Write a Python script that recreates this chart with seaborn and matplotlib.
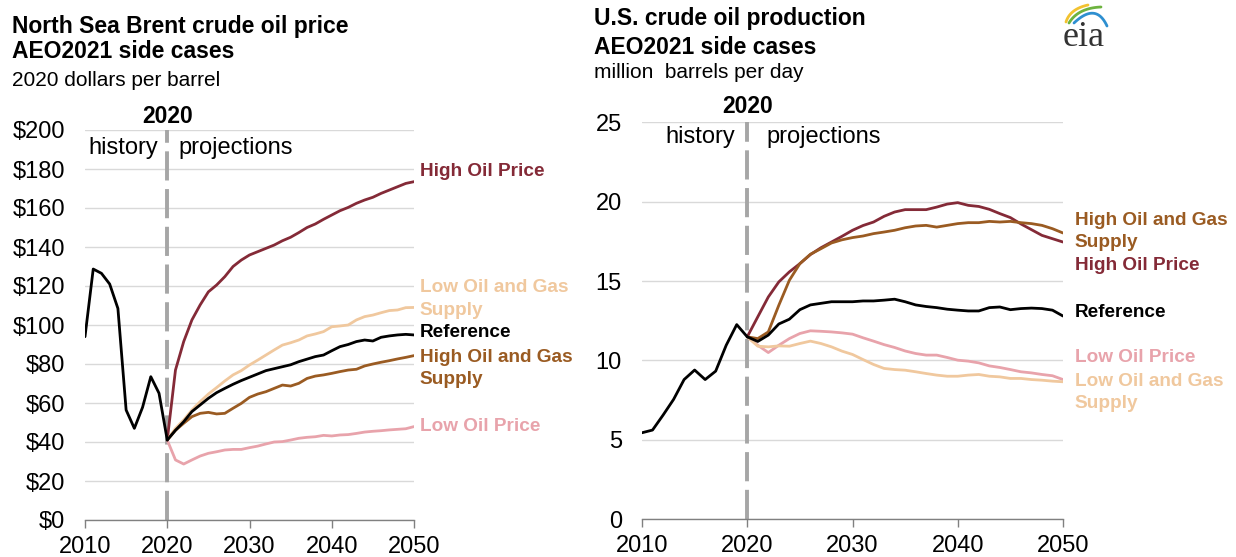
import numpy as np
import pandas as pd
import matplotlib
matplotlib.use("Agg")
import matplotlib.pyplot as plt
import seaborn as sns

# ---------------- data ----------------
years_hist = list(range(2010, 2021))
years_proj = list(range(2020, 2051))

brent_hist = [94, 128.7, 126.5, 121, 108.5, 56.4, 47, 57.8, 73.5, 65, 41]
brent_reference = [41, 46, 50.4, 55.6, 59, 62.4, 65.3, 67.5, 69.6, 71.5, 73.2, 74.9, 76.6, 77.6,
                   78.6, 79.6, 81.2, 82.5, 83.8, 84.6, 86.8, 88.9, 90, 91.5, 92.3, 91.8, 93.7,
                   94.4, 94.9, 95.2, 94.9]
brent_high_price = [41, 76.9, 91.5, 102.6, 110.3, 117, 120.5, 124.8, 130, 133.3, 135.9, 137.6,
                    139.3, 141, 143.2, 145, 147.4, 150, 151.8, 154.2, 156.4, 158.6, 160.3, 162.4,
                    164.1, 165.5, 167.5, 169.2, 170.9, 172.6, 173.5]
brent_low_supply = [41, 47, 51.3, 56.4, 60.7, 64.6, 67.9, 71.3, 74.4, 76.6, 79.5, 82, 84.6, 87.2,
                    89.7, 90.9, 92.3, 94.4, 95.4, 96.6, 99.1, 99.5, 100, 102.6, 104.3, 105.1,
                    106.3, 107.4, 107.7, 108.9, 109]
brent_high_supply = [41, 46, 49.6, 53, 54.7, 55.2, 54.4, 54.7, 57.3, 59.8, 62.9, 64.6, 65.8, 67.5,
                     69.2, 68.7, 70.1, 72.6, 73.8, 74.4, 75.2, 76.1, 76.9, 77.3, 79, 80, 80.9,
                     81.7, 82.6, 83.4, 84.3]
brent_low_price = [41, 30.8, 28.7, 30.8, 32.8, 34.2, 35, 35.9, 36.2, 36.2, 37.1, 37.9, 39, 40,
                   40.2, 41, 41.9, 42.4, 42.7, 43.4, 43.1, 43.6, 43.8, 44.4, 45.1, 45.5, 45.8,
                   46.2, 46.5, 46.8, 47.9]

prod_hist = [5.45, 5.62, 6.56, 7.55, 8.8, 9.4, 8.8, 9.33, 10.96, 12.26, 11.49]
prod_reference = [11.49, 11.2, 11.6, 12.3, 12.6, 13.2, 13.5, 13.6, 13.7, 13.7, 13.7, 13.75, 13.75,
                  13.8, 13.86, 13.7, 13.5, 13.4, 13.33, 13.23, 13.17, 13.12, 13.12, 13.33, 13.37,
                  13.2, 13.27, 13.3, 13.27, 13.17, 12.8]
prod_high_price = [11.49, 12.75, 14.0, 14.95, 15.58, 16.1, 16.67, 17.1, 17.46, 17.82, 18.2, 18.5,
                   18.72, 19.08, 19.35, 19.5, 19.5, 19.5, 19.66, 19.85, 19.94, 19.77, 19.7, 19.52,
                   19.25, 19.0, 18.6, 18.24, 17.88, 17.67, 17.46]
prod_high_supply = [11.49, 11.38, 11.8, 13.48, 15.05, 16.1, 16.69, 17.04, 17.4, 17.6, 17.74, 17.84,
                    17.99, 18.09, 18.2, 18.36, 18.47, 18.51, 18.4, 18.51, 18.62, 18.68, 18.68,
                    18.76, 18.72, 18.76, 18.68, 18.62, 18.51, 18.3, 18.03]
prod_low_price = [11.49, 10.96, 10.5, 10.96, 11.38, 11.7, 11.87, 11.84, 11.8, 11.74, 11.66, 11.43,
                  11.22, 11.0, 10.82, 10.6, 10.44, 10.34, 10.34, 10.19, 10.02, 9.96, 9.85, 9.66,
                  9.56, 9.43, 9.29, 9.22, 9.12, 9.04, 8.8]
prod_low_supply = [11.49, 10.9, 10.86, 10.92, 10.9, 11.07, 11.22, 11.07, 10.86, 10.59, 10.38,
                   10.06, 9.75, 9.5, 9.43, 9.39, 9.29, 9.18, 9.08, 9.01, 9.01, 9.08, 9.12, 9.01,
                   8.97, 8.87, 8.87, 8.8, 8.76, 8.7, 8.66]

case_names = ["High Oil Price", "Low Oil and Gas Supply", "Reference",
              "High Oil and Gas Supply", "Low Oil Price"]
brent_yticks = [0, 20, 40, 60, 80, 100, 120, 140, 160, 180, 200]
prod_yticks = [0, 5, 10, 15, 20, 25]
xticks = [2010, 2020, 2030, 2040, 2050]

colors = {
    "High Oil Price": "#842A37",
    "Low Oil and Gas Supply": "#F0C89E",
    "Reference": "#000000",
    "High Oil and Gas Supply": "#9A5B22",
    "Low Oil Price": "#E8A3AB",
}

# ---------------- style ----------------
sns.set_theme(style="white")
plt.rcParams["font.family"] = ["Liberation Sans", "DejaVu Sans"]
plt.rcParams["text.color"] = "#000000"
plt.rcParams["axes.labelcolor"] = "#000000"
plt.rcParams["xtick.color"] = "#000000"
plt.rcParams["ytick.color"] = "#000000"

fig = plt.figure(figsize=(12.36, 5.57), dpi=100)
axL = fig.add_axes([85 / 1236, 1 - 520 / 557, 329 / 1236, 390 / 557])
axR = fig.add_axes([642 / 1236, 1 - 519.3 / 557, 421 / 1236, 397 / 557])


def long_df(values_by_case):
    frames = []
    for name, vals in values_by_case.items():
        frames.append(pd.DataFrame({"year": years_proj, "value": vals, "case": name}))
    return pd.concat(frames, ignore_index=True)


brent_df = long_df({
    "High Oil Price": brent_high_price,
    "Low Oil and Gas Supply": brent_low_supply,
    "High Oil and Gas Supply": brent_high_supply,
    "Low Oil Price": brent_low_price,
    "Reference": brent_reference,
})
prod_df = long_df({
    "Low Oil Price": prod_low_price,
    "Low Oil and Gas Supply": prod_low_supply,
    "High Oil Price": prod_high_price,
    "High Oil and Gas Supply": prod_high_supply,
    "Reference": prod_reference,
})
brent_hist_df = pd.DataFrame({"year": years_hist, "value": brent_hist})
prod_hist_df = pd.DataFrame({"year": years_hist, "value": prod_hist})

LW = 2.0
TICK_FS = 17
LABEL_FS = 13.7


def style_axis(ax, ymax, yticks, fmt):
    ax.set_xlim(2010, 2050)
    ax.set_ylim(0, ymax)
    ax.set_xticks(xticks)
    ax.set_yticks(yticks)
    ax.set_yticklabels([fmt(v) for v in yticks])
    ax.set_xlabel("")
    ax.set_ylabel("")
    for s in ["left", "right", "top"]:
        ax.spines[s].set_visible(False)
    ax.spines["bottom"].set_color("#808080")
    ax.spines["bottom"].set_linewidth(1.0)
    ax.grid(axis="y", color="#D9D9D9", linewidth=1.0)
    ax.grid(axis="x", visible=False)
    ax.set_axisbelow(True)
    ax.tick_params(axis="x", which="both", bottom=True, length=5.5, width=1.0,
                   color="#808080", labelsize=TICK_FS, pad=6, labelcolor="#000000")
    ax.tick_params(axis="y", length=0, labelsize=TICK_FS, pad=14.5, labelcolor="#000000")
    ax.axvline(2020, color="#A6A6A6", lw=2.8, ls=(0, (7.5, 2.2)), zorder=1.5)


for ax, df, hdf in [(axL, brent_df, brent_hist_df), (axR, prod_df, prod_hist_df)]:
    sns.lineplot(data=df, x="year", y="value", hue="case", palette=colors,
                 linewidth=LW, legend=False, ax=ax, zorder=3)
    sns.lineplot(data=hdf, x="year", y="value", color="#000000", linewidth=LW,
                 legend=False, ax=ax, zorder=4)

style_axis(axL, 200, brent_yticks, lambda v: f"${v:.0f}")
style_axis(axR, 25, prod_yticks, lambda v: f"{v:.0f}")

# history / projections / 2020
YEAR_FS = 16.5
axL.text(2020, 206.7, "2020", ha="center", va="center", fontsize=YEAR_FS,
         fontweight="bold", clip_on=False)
axL.text(2018.87, 191.0, "history", ha="right", va="center", fontsize=TICK_FS)
axL.text(2021.3, 191.0, "projections", ha="left", va="center", fontsize=TICK_FS)
axR.text(2020, 25.97, "2020", ha="center", va="center", fontsize=YEAR_FS,
         fontweight="bold", clip_on=False)
axR.text(2018.83, 24.1, "history", ha="right", va="center", fontsize=TICK_FS)
axR.text(2021.78, 24.1, "projections", ha="left", va="center", fontsize=TICK_FS)

# series labels
LSP = 1.42
left_labels = [
    ("High Oil Price", "High Oil Price", 178.5),
    ("Low Oil and Gas\nSupply", "Low Oil and Gas Supply", 113.3),
    ("Reference", "Reference", 95.9),
    ("High Oil and Gas\nSupply", "High Oil and Gas Supply", 77.7),
    ("Low Oil Price", "Low Oil Price", 48.2),
]
for txt, key, y in left_labels:
    axL.text(2050.7, y, txt, ha="left", va="center", fontsize=LABEL_FS,
             fontweight="bold", color=colors[key], linespacing=LSP, clip_on=False)

right_labels = [
    ("High Oil and Gas\nSupply", "High Oil and Gas Supply", 18.12),
    ("High Oil Price", "High Oil Price", 16.01),
    ("Reference", "Reference", 13.05),
    ("Low Oil Price", "Low Oil Price", 10.16),
    ("Low Oil and Gas\nSupply", "Low Oil and Gas Supply", 7.98),
]
for txt, key, y in right_labels:
    axR.text(2051.1, y, txt, ha="left", va="center", fontsize=LABEL_FS,
             fontweight="bold", color=colors[key], linespacing=LSP, clip_on=False)

# titles
TITLE_FS = 16.5
SUB_FS = 15
fig.text(12 / 1236, 1 - 26 / 557, "North Sea Brent crude oil price", fontsize=TITLE_FS,
         fontweight="bold", ha="left", va="center")
fig.text(12 / 1236, 1 - 52 / 557, "AEO2021 side cases", fontsize=TITLE_FS,
         fontweight="bold", ha="left", va="center")
fig.text(12 / 1236, 1 - 80 / 557, "2020 dollars per barrel", fontsize=SUB_FS,
         ha="left", va="center")
fig.text(594 / 1236, 1 - 19 / 557, "U.S. crude oil production", fontsize=TITLE_FS,
         fontweight="bold", ha="left", va="center")
fig.text(594 / 1236, 1 - 47 / 557, "AEO2021 side cases", fontsize=TITLE_FS,
         fontweight="bold", ha="left", va="center")
fig.text(594 / 1236, 1 - 73 / 557, "million  barrels per day", fontsize=SUB_FS,
         ha="left", va="center")

# eia logo (pixel-like coordinates, y downward)
logo = fig.add_axes([1050 / 1236, 1 - 55 / 557, 70 / 1236, 55 / 557])
logo.set_xlim(1050, 1120)
logo.set_ylim(55, 0)
logo.axis("off")
logo.text(1084, 38, "eia", ha="center", va="center", fontsize=26,
          family=["Liberation Serif", "DejaVu Serif"], color="#333333")


def swoosh(p0, p1, p2, color):
    t = np.linspace(0, 1, 40)
    x = (1 - t) ** 2 * p0[0] + 2 * (1 - t) * t * p1[0] + t ** 2 * p2[0]
    y = (1 - t) ** 2 * p0[1] + 2 * (1 - t) * t * p1[1] + t ** 2 * p2[1]
    logo.plot(x, y, color=color, lw=2.0, solid_capstyle="round")


swoosh((1066, 22), (1070, 9), (1088, 5), "#F2C230")
swoosh((1069, 23), (1078, 8), (1101, 7), "#6DB33F")
swoosh((1074, 23), (1096, 2), (1107, 26), "#2E8FD0")

fig.savefig("out.png", dpi=100, facecolor="white")
